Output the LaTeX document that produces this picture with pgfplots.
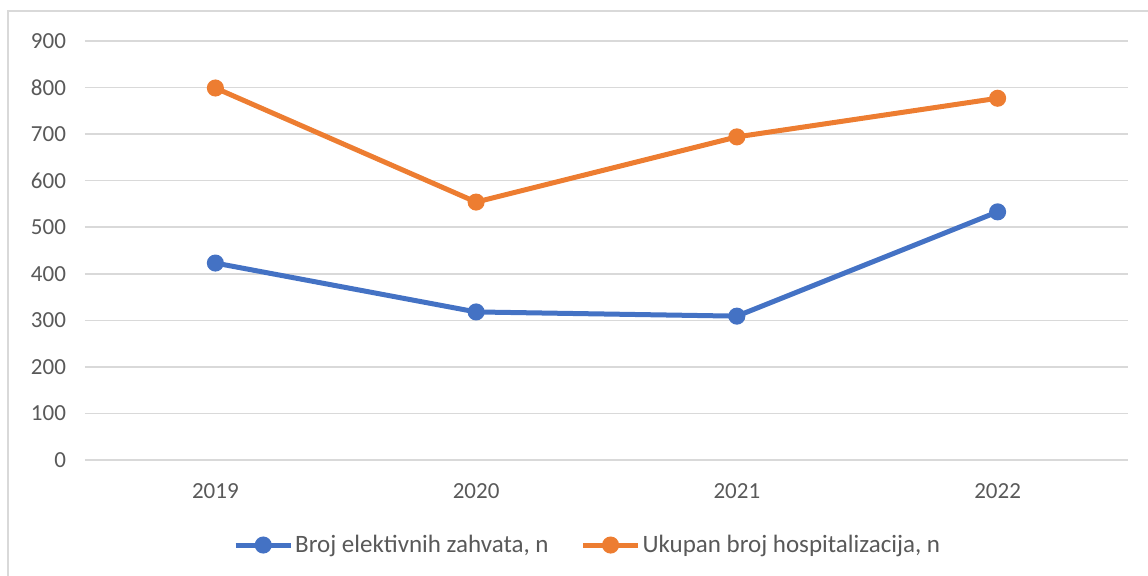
\documentclass[border=0pt]{standalone}
\usepackage{pgfplots}
\pgfplotsset{compat=1.18}
\usepackage{fontspec}
\setmainfont{Carlito}
\definecolor{cblue}{HTML}{4472C4}
\definecolor{corange}{HTML}{ED7D31}
\definecolor{cgrid}{HTML}{D9D9D9}
\definecolor{ctext}{HTML}{595959}
\begin{document}
\begin{tikzpicture}[x=1pt,y=1pt]
\useasboundingbox (0,0) rectangle (574,288);
\draw[cgrid,line width=0.8pt] (4,0) -- (4,282.5) -- (574,282.5);
\begin{axis}[
  at={(42.5pt,58pt)}, anchor=south west,
  scale only axis, width=521.5pt, height=209.5pt,
  xmin=-0.5, xmax=3.5, ymin=0, ymax=900,
  ytick={0,100,...,900},
  xtick={0,1,2,3}, xticklabels={2019,2020,2021,2022},
  axis line style={draw=none},
  major tick length=0pt,
  ymajorgrids, grid style={cgrid,line width=0.8pt},
  tick label style={font=\fontsize{11.5}{13}\selectfont, text=ctext},
  /pgf/number format/assume math mode=true,
  yticklabel style={xshift=-6pt},
  xticklabel style={yshift=-8.5pt},
  legend style={at={(0.482,-0.203)}, anchor=center, draw=none, fill=none,
    legend columns=2, font=\fontsize{12.5}{14}\selectfont, text=ctext,
    nodes={inner xsep=1pt},
    /tikz/every even column/.append style={column sep=15pt}},
  legend cell align=left,
  legend image code/.code={\draw[mark repeat=2,mark phase=2,#1] plot coordinates {(0pt,0pt) (13.75pt,0pt) (27.5pt,0pt)};},
  clip=false,
]
\addplot[cblue, line width=2.5pt, mark=*, mark size=3pt] coordinates {(0,423) (1,318) (2,309) (3,533)};
\addlegendentry{Broj elektivnih zahvata, n}
\addplot[corange, line width=2.5pt, mark=*, mark size=3pt] coordinates {(0,799) (1,554) (2,694) (3,777)};
\addlegendentry{Ukupan broj hospitalizacija, n}
\end{axis}
\end{tikzpicture}
\end{document}
